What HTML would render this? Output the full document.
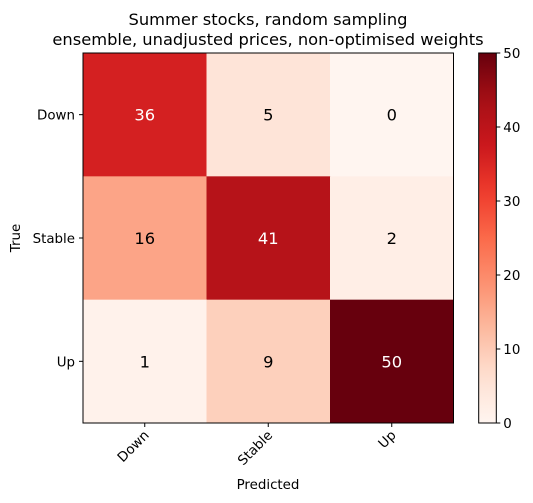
<!DOCTYPE html>
<html><head><meta charset="utf-8"><style>
html,body{margin:0;padding:0;background:#fff;}
svg{display:block;font-family:"DejaVu Sans","Liberation Sans",sans-serif;}
</style></head><body>
<svg id="chart" width="533" height="503" viewBox="0 0 533 503">
<text x="268" y="25" font-size="16.3" text-anchor="middle">Summer stocks, random sampling</text>
<text x="268" y="45" font-size="16.3" text-anchor="middle">ensemble, unadjusted prices, non-optimised weights</text>
<g id="cells"></g>
<g id="axes"></g>
<defs><linearGradient id="cbgrad" x1="0" y1="1" x2="0" y2="0"></linearGradient></defs>
<g id="cbar"></g>
<text x="268" y="489" font-size="13.4" text-anchor="middle">Predicted</text>
<text x="0" y="0" font-size="13.4" text-anchor="middle" transform="translate(20,238) rotate(-90)">True</text>
</svg>
<script>
const predictedLabels = ["Down","Stable","Up"];
const trueLabels = ["Down","Stable","Up"];
const rowDown = [36,5,0];
const rowStable = [16,41,2];
const rowUp = [1,9,50];
const colorbarTicks = [0,10,20,30,40,50];

const matrix = [rowDown, rowStable, rowUp];
const NS = "http://www.w3.org/2000/svg";
const L=83, R=453.5, T=53, B=423;
const vmin=0, vmax=50;
const nx=predictedLabels.length, ny=trueLabels.length;
const cw=(R-L)/nx, ch=(B-T)/ny;
const stops=["#fff5f0","#fee0d2","#fcbba1","#fc9272","#fb6a4a","#ef3b2c","#cb181d","#a50f15","#67000d"];
function hex(h){return [1,3,5].map(i=>parseInt(h.substr(i,2),16));}
function cmap(v){
  let t=Math.max(0,Math.min(1,(v-vmin)/(vmax-vmin)))*(stops.length-1);
  let i=Math.min(Math.floor(t),stops.length-2), f=t-i;
  const a=hex(stops[i]), b=hex(stops[i+1]);
  return "rgb("+a.map((x,k)=>Math.round(x+(b[k]-x)*f)).join(",")+")";
}
function mk(tag,attrs,parent){const e=document.createElementNS(NS,tag);for(const k in attrs)e.setAttribute(k,attrs[k]);parent.appendChild(e);return e;}
const xPos=j=>L+cw*(j+0.5), yPos=i=>T+ch*(i+0.5);
const cells=document.getElementById("cells");
matrix.forEach((row,i)=>row.forEach((v,j)=>{
  const r=mk("rect",{x:L+cw*j,y:T+ch*i,width:cw+0.5,height:ch+0.5,fill:cmap(v)},cells);
  
  
  const t=mk("text",{x:xPos(j),y:yPos(i)+6,"font-size":"16.3","text-anchor":"middle",fill:v>(vmax/2)?"#fff":"#000"},cells);
  t.textContent=v;
  
  
}));
const ax=document.getElementById("axes");
const frame=mk("rect",{x:L,y:T,width:R-L,height:B-T,fill:"none",stroke:"#000","stroke-width":"1"},ax);


predictedLabels.forEach((lab,j)=>{
  const x=xPos(j);
  const tk=mk("line",{x1:x,x2:x,y1:B,y2:B+4,stroke:"#000"},ax);
  
  
  const t=mk("text",{x:0,y:0,"font-size":"13.4","text-anchor":"end",transform:"translate("+(x+5)+","+(B+13)+") rotate(-45)"},ax);
  t.textContent=lab;
  
  
});
trueLabels.forEach((lab,i)=>{
  const y=yPos(i);
  const tk=mk("line",{x1:L-4,x2:L,y1:y,y2:y,stroke:"#000"},ax);
  
  
  const t=mk("text",{x:L-8,y:y+5,"font-size":"13.4","text-anchor":"end"},ax);
  t.textContent=lab;
  
  
});
const grad=document.getElementById("cbgrad");
for(let k=0;k<=20;k++){mk("stop",{offset:(k/20),"stop-color":cmap(vmin+(vmax-vmin)*k/20)},grad);}
const cb=document.getElementById("cbar");
const CL=478.7, CR=496.3;
const cbr=mk("rect",{x:CL,y:T,width:CR-CL,height:B-T,fill:"url(#cbgrad)",stroke:"#000","stroke-width":"1"},cb);


const cy=v=>B-(v-vmin)/(vmax-vmin)*(B-T);
colorbarTicks.forEach(v=>{
  const y=cy(v);
  const tk=mk("line",{x1:CR,x2:CR+4,y1:y,y2:y,stroke:"#000"},cb);
  
  
  const t=mk("text",{x:CR+7,y:y+5,"font-size":"13.4"},cb);
  t.textContent=v;
  
  
});
</script>
</body></html>
